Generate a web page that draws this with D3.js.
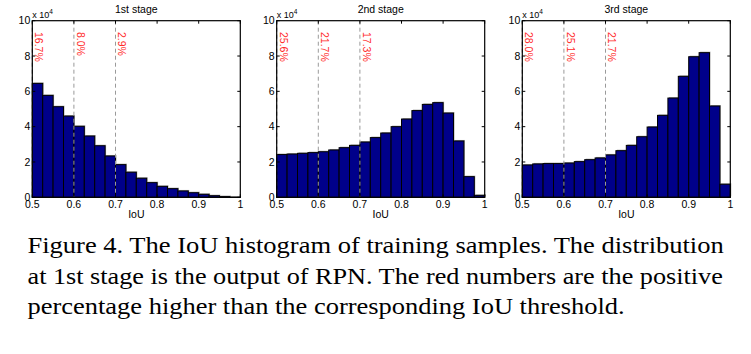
<!DOCTYPE html>
<html>
<head>
<meta charset="utf-8">
<script src="https://cdn.jsdelivr.net/npm/d3@7"></script>
<style>
  body { margin: 0; background: #fff; }
  svg { display: block; }
</style>
</head>
<body>
<div id="chart"></div>
<script>
// IoU bins (left edge of each bin, width 0.025)
const binStarts = [0.5, 0.525, 0.55, 0.575, 0.6, 0.625, 0.65, 0.675, 0.7, 0.725,
                   0.75, 0.775, 0.8, 0.825, 0.85, 0.875, 0.9, 0.925, 0.95, 0.975];
const binWidth = 0.025;

// counts in units of 10^4
const stage1 = [6.45, 5.77, 5.13, 4.60, 4.02, 3.47, 2.92, 2.34, 1.85, 1.42,
                1.08, 0.83, 0.62, 0.49, 0.36, 0.26, 0.17, 0.09, 0.04, 0.01];
const stage2 = [2.42, 2.45, 2.49, 2.53, 2.58, 2.68, 2.81, 2.94, 3.13, 3.38,
                3.64, 4.00, 4.43, 4.91, 5.26, 5.36, 4.77, 3.19, 1.17, 0.11];
const stage3 = [1.83, 1.89, 1.91, 1.91, 1.94, 2.02, 2.13, 2.23, 2.40, 2.64,
                2.94, 3.43, 3.98, 4.64, 5.62, 6.85, 7.96, 8.19, 5.17, 0.74];

const stageTitles = ["1st stage", "2nd stage", "3rd stage"];
const thresholds = [0.5, 0.6, 0.7];
const pctLabels = [
    ["16.7%", "8.0%", "2.9%"],
    ["25.6%", "21.7%", "17.3%"],
    ["28.0%", "25.1%", "21.7%"]
];
const xTicks = [0.5, 0.6, 0.7, 0.8, 0.9, 1];
const yTicks = [0, 2, 4, 6, 8, 10];

const captionLines = [
    "Figure 4. The IoU histogram of training samples. The distribution",
    "at 1st stage is the output of RPN. The red numbers are the positive",
    "percentage higher than the corresponding IoU threshold."
];

const serifFont = '"Liberation Serif"';
const tickFont = '"Liberation Sans"';

const W = 751, H = 354;
const svg = d3.select("#chart").append("svg")
    .attr("width", W)
    .attr("height", H)
    .style("background", "#fff");

// panel placement
const panelLeft = [32.3, 276.7, 522.3];
const panelW = 208;
const plotTop = 20.7, plotBottom = 197.3;
const allCounts = [stage1, stage2, stage3];

allCounts.forEach((counts, p) => {
    const x = d3.scaleLinear().domain([0.5, 1]).range([panelLeft[p], panelLeft[p] + panelW]);
    const y = d3.scaleLinear().domain([0, 10]).range([plotBottom, plotTop]);
    const g = svg.append("g");
    const bw = x(binStarts[0] + binWidth) - x(binStarts[0]);

    // faint shadow behind bars
    g.selectAll("rect.shadow")
        .data(counts)
        .join("rect")
        .attr("class", "shadow")
        .attr("x", (d, i) => x(binStarts[i]) + 1)
        .attr("y", d => y(d) - 1)
        .attr("width", bw)
        .attr("height", d => plotBottom - y(d))
        .attr("fill", "#a8a8a8");

    // bars
    g.selectAll("rect.bar")
        .data(counts)
        .join("rect")
        .attr("class", "bar")
        .attr("x", (d, i) => x(binStarts[i]))
        .attr("y", d => y(d))
        .attr("width", bw)
        .attr("height", d => plotBottom - y(d))
        .attr("fill", "#00008a")
        .attr("stroke", "#000")
        .attr("stroke-width", 1);

    // dashed threshold lines
    g.selectAll("line.thr")
        .data(thresholds)
        .join("line")
        .attr("class", "thr")
        .attr("x1", d => x(d)).attr("x2", d => x(d))
        .attr("y1", plotTop).attr("y2", plotBottom)
        .attr("stroke", d => d === 0.5 ? "#555" : "#9a9a9a")
        .attr("stroke-width", 1)
        .attr("stroke-dasharray", "4,3");

    // box
    g.append("rect")
        .attr("x", x(0.5)).attr("y", plotTop)
        .attr("width", panelW).attr("height", plotBottom - plotTop)
        .attr("fill", "none")
        .attr("stroke", "#000")
        .attr("stroke-width", 1.2);

    // ticks (inward, both sides)
    const tl = 3;
    xTicks.forEach(t => {
        g.append("line").attr("x1", x(t)).attr("x2", x(t)).attr("y1", plotBottom).attr("y2", plotBottom - tl).attr("stroke", "#000");
        g.append("line").attr("x1", x(t)).attr("x2", x(t)).attr("y1", plotTop).attr("y2", plotTop + tl).attr("stroke", "#000");
    });
    yTicks.forEach(t => {
        g.append("line").attr("x1", x(0.5)).attr("x2", x(0.5) + tl).attr("y1", y(t)).attr("y2", y(t)).attr("stroke", "#000");
        g.append("line").attr("x1", x(1)).attr("x2", x(1) - tl).attr("y1", y(t)).attr("y2", y(t)).attr("stroke", "#000");
    });

    // tick labels
    g.selectAll("text.xt")
        .data(xTicks)
        .join("text")
        .attr("class", "xt")
        .attr("x", d => x(d))
        .attr("y", 207.5)
        .attr("text-anchor", "middle")
        .attr("font-family", tickFont)
        .attr("font-size", 10.5)
        .text(d => String(d));

    g.selectAll("text.yt")
        .data(yTicks)
        .join("text")
        .attr("class", "yt")
        .attr("x", x(0.5) - 2)
        .attr("y", d => y(d) + 3.6)
        .attr("text-anchor", "end")
        .attr("font-family", tickFont)
        .attr("font-size", 10.5)
        .text(d => String(d));

    // exponent label
    const ex = g.append("text")
        .attr("x", x(0.5))
        .attr("y", 18)
        .attr("font-family", tickFont)
        .attr("font-size", 9)
        .text("x 10");
    ex.append("tspan").attr("dy", -4).attr("font-size", 6.5).text("4");

    // title + xlabel
    g.append("text")
        .attr("x", x(0.75)).attr("y", 13.3)
        .attr("text-anchor", "middle")
        .attr("font-family", tickFont)
        .attr("font-size", 10.5)
        .text(stageTitles[p]);

    g.append("text")
        .attr("x", x(0.75)).attr("y", 217.8)
        .attr("text-anchor", "middle")
        .attr("font-family", tickFont)
        .attr("font-size", 10.5)
        .text("IoU");

    // red percentage labels, rotated
    g.selectAll("text.pct")
        .data(thresholds)
        .join("text")
        .attr("class", "pct")
        .attr("transform", d => `translate(${x(d) + 2.8},${32})rotate(90)`)
        .attr("font-family", tickFont)
        .attr("font-size", 10.5)
        .attr("fill", "#ff2a2a")
        .text((d, i) => pctLabels[p][i]);
});

// caption: stretch each line horizontally to the reference width
const capX = 27.5;
const capBase = [252.7, 283.5, 314];
const capLen = [696.5, 695.5, 597.5];
svg.selectAll("text.cap")
    .data(captionLines)
    .join("text")
    .attr("class", "cap")
    .attr("x", 0)
    .attr("y", 0)
    .attr("font-family", serifFont)
    .attr("font-size", 24)
    .attr("fill", "#000")
    .text(d => d)
    .each(function (d, i) {
        const w = this.getComputedTextLength();
        const s = w > 0 ? capLen[i] / w : 1;
        d3.select(this).attr("transform", `translate(${capX},${capBase[i]})scale(${s},1)`);
    });
</script>
</body>
</html>
